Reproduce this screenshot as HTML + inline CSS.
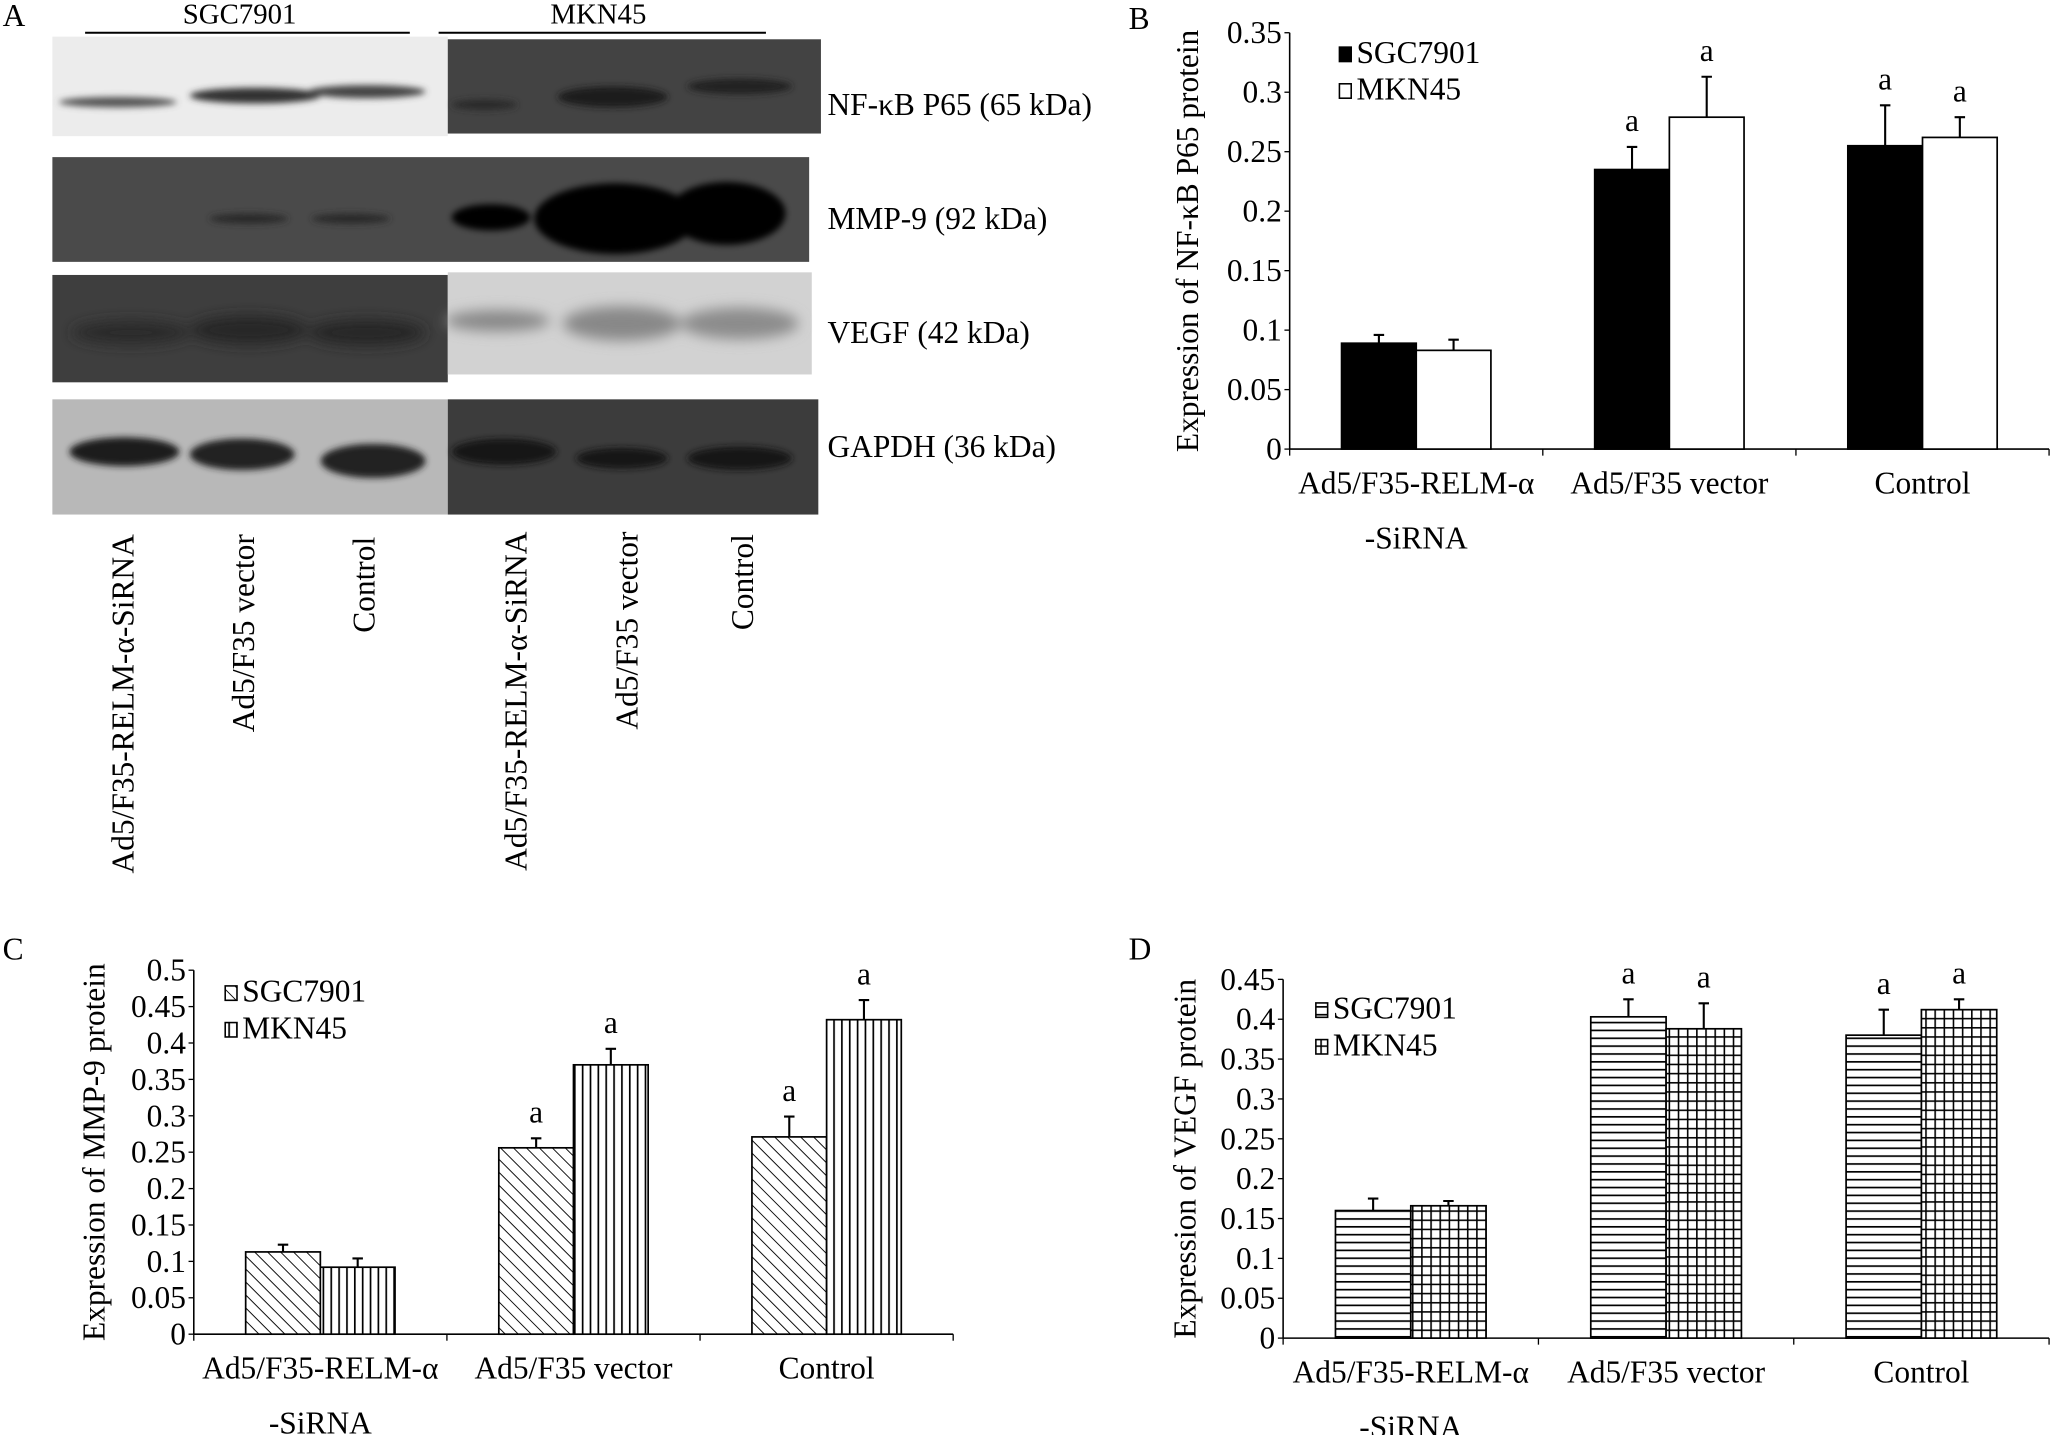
<!DOCTYPE html>
<html><head><meta charset="utf-8"><style>
html,body{margin:0;padding:0;background:#fff;}
svg{display:block;font-family:"Liberation Serif",serif;}
</style></head><body>
<svg id="fig" width="2053" height="1435" viewBox="0 0 1568 1096" xmlns="http://www.w3.org/2000/svg">
<defs>
<filter id="blur" x="-30%" y="-100%" width="160%" height="300%"><feGaussianBlur stdDeviation="5"/></filter>
<filter id="blur2" x="-30%" y="-100%" width="160%" height="300%"><feGaussianBlur stdDeviation="2.5"/></filter>
<pattern id="diag" width="7" height="7" patternUnits="userSpaceOnUse" patternTransform="rotate(-45)"><rect width="7" height="7" fill="#fff"/><line x1="0" y1="0" x2="0" y2="7" stroke="#000" stroke-width="1.4"/></pattern>
<pattern id="vert" width="6" height="6" patternUnits="userSpaceOnUse"><rect width="6" height="6" fill="#fff"/><line x1="1" y1="0" x2="1" y2="6" stroke="#000" stroke-width="1.3"/></pattern>
<pattern id="horiz" width="6" height="6" patternUnits="userSpaceOnUse"><rect width="6" height="6" fill="#fff"/><line x1="0" y1="1" x2="6" y2="1" stroke="#000" stroke-width="1.3"/></pattern>
<pattern id="grid" width="7" height="7" patternUnits="userSpaceOnUse"><rect width="7" height="7" fill="#fff"/><line x1="0" y1="1" x2="7" y2="1" stroke="#000" stroke-width="1.2"/><line x1="1" y1="0" x2="1" y2="7" stroke="#000" stroke-width="1.2"/></pattern>
</defs>

<g>
<text x="2" y="20" font-size="24">A</text>
<text x="183" y="18" font-size="22" text-anchor="middle">SGC7901</text>
<line x1="65" y1="25" x2="313" y2="25" stroke="#000" stroke-width="1.5"/>
<text x="457" y="18" font-size="22" text-anchor="middle">MKN45</text>
<line x1="335" y1="25" x2="585" y2="25" stroke="#000" stroke-width="1.5"/>

<g>
<rect x="40" y="28" width="302" height="76" fill="#ececec"/>
<rect x="342" y="30" width="285" height="72" fill="#434343"/>
<g filter="url(#blur2)">
<ellipse cx="90" cy="78" rx="45" ry="4" fill="#555"/>
<ellipse cx="195" cy="73" rx="50" ry="6" fill="#333"/>
<ellipse cx="280" cy="70" rx="45" ry="5" fill="#444"/>
<ellipse cx="370" cy="80" rx="25" ry="4" fill="#2a2a2a"/>
<ellipse cx="468" cy="74" rx="42" ry="8" fill="#1a1a1a"/>
<ellipse cx="565" cy="66" rx="40" ry="6" fill="#222"/>
</g>
</g>
<g>
<rect x="40" y="120" width="578" height="80" fill="#4a4a4a"/>
<g filter="url(#blur2)">
<ellipse cx="190" cy="167" rx="30" ry="4" fill="#2a2a2a"/>
<ellipse cx="268" cy="167" rx="30" ry="4" fill="#2a2a2a"/>
<ellipse cx="375" cy="166" rx="30" ry="10" fill="#050505"/>
<ellipse cx="470" cy="167" rx="62" ry="27" fill="#000"/>
<ellipse cx="555" cy="163" rx="45" ry="24" fill="#000"/>
</g>
</g>
<g>
<rect x="40" y="210" width="302" height="82" fill="#3e3e3e"/>
<rect x="342" y="208" width="278" height="78" fill="#d2d2d2"/>
<g filter="url(#blur)">
<ellipse cx="100" cy="254" rx="45" ry="9" fill="#2a2a2a"/>
<ellipse cx="190" cy="252" rx="45" ry="11" fill="#262626"/>
<ellipse cx="280" cy="254" rx="45" ry="10" fill="#282828"/>
<ellipse cx="380" cy="245" rx="40" ry="8" fill="#888"/>
<ellipse cx="475" cy="247" rx="45" ry="13" fill="#888"/>
<ellipse cx="565" cy="247" rx="45" ry="12" fill="#8c8c8c"/>
</g>
</g>
<g>
<rect x="40" y="305" width="302" height="88" fill="#b8b8b8"/>
<rect x="342" y="305" width="283" height="88" fill="#3c3c3c"/>
<g filter="url(#blur2)">
<ellipse cx="95" cy="345" rx="42" ry="11" fill="#1e1e1e"/>
<ellipse cx="185" cy="347" rx="40" ry="12" fill="#222"/>
<ellipse cx="285" cy="352" rx="40" ry="13" fill="#222"/>
<ellipse cx="385" cy="345" rx="40" ry="10" fill="#151515"/>
<ellipse cx="475" cy="350" rx="35" ry="8" fill="#181818"/>
<ellipse cx="565" cy="350" rx="40" ry="9" fill="#181818"/>
</g>
</g>
<g font-size="24">
<text x="632" y="88">NF-κB P65 (65 kDa)</text>
<text x="632" y="175">MMP-9 (92 kDa)</text>
<text x="632" y="262">VEGF (42 kDa)</text>
<text x="632" y="349">GAPDH (36 kDa)</text>
</g>
<g font-size="24" text-anchor="end">
<text transform="translate(102,408) rotate(-90)">Ad5/F35-RELM-α-SiRNA</text>
<text transform="translate(194,408) rotate(-90)">Ad5/F35 vector</text>
<text transform="translate(286,410) rotate(-90)">Control</text>
<text transform="translate(402,406) rotate(-90)">Ad5/F35-RELM-α-SiRNA</text>
<text transform="translate(487,406) rotate(-90)">Ad5/F35 vector</text>
<text transform="translate(575,408) rotate(-90)">Control</text>
</g>
</g>

<text x="862" y="22" font-size="24">B</text>
<text x="2" y="733" font-size="24">C</text>
<text x="862" y="733" font-size="24">D</text>
<g id="chartB"></g>
<g id="chartC"></g>
<g id="chartD"></g>
</svg>
<script>
const categories = ["Ad5/F35-RELM-α", "Ad5/F35 vector", "Control"];
const seriesNames = ["SGC7901", "MKN45"];
const bSgc = [0.089, 0.235, 0.255];
const bMkn = [0.083, 0.279, 0.262];
const bSgcErr = [0.007, 0.019, 0.034];
const bMknErr = [0.009, 0.034, 0.017];
const bSig = [[false,false],[true,true],[true,true]];
const bTicks = ["0","0.05","0.1","0.15","0.2","0.25","0.3","0.35"];
const cSgc = [0.113, 0.256, 0.271];
const cMkn = [0.092, 0.370, 0.432];
const cSgcErr = [0.010, 0.013, 0.028];
const cMknErr = [0.012, 0.022, 0.027];
const cSig = [[false,false],[true,true],[true,true]];
const cTicks = ["0","0.05","0.1","0.15","0.2","0.25","0.3","0.35","0.4","0.45","0.5"];
const dSgc = [0.160, 0.403, 0.380];
const dMkn = [0.166, 0.388, 0.412];
const dSgcErr = [0.015, 0.022, 0.032];
const dMknErr = [0.006, 0.032, 0.013];
const dSig = [[false,false],[true,true],[true,true]];
const dTicks = ["0","0.05","0.1","0.15","0.2","0.25","0.3","0.35","0.4","0.45"];

const NS = "http://www.w3.org/2000/svg";
function mk(parent, tag, attrs, text) {
  const e = document.createElementNS(NS, tag);
  for (const k in attrs) e.setAttribute(k, attrs[k]);
  if (text !== undefined) e.textContent = text;
  parent.appendChild(e);
  return e;
}
function drawChart(id, cfg) {
  const g = document.getElementById(id);
  const {x0, x1, y0, yTop, ticks, s1, s2, e1, e2, sig, fills, title, titleX, legY, legX} = cfg;
  const maxV = parseFloat(ticks[ticks.length - 1]);
  const y = v => y0 - (v / maxV) * (y0 - yTop);
  const catW = (x1 - x0) / categories.length;
  const xc = i => x0 + catW * (i + 0.5);
  const bw = catW * 0.295;
  const yAxis = mk(g, "line", {x1: x0, y1: yTop, x2: x0, y2: y0, stroke: "#000", "stroke-width": 1.2});
  
  
  const xAxis = mk(g, "line", {x1: x0, y1: y0, x2: x1, y2: y0, stroke: "#000", "stroke-width": 1.2});
  
  
  ticks.forEach(t => {
    const v = parseFloat(t), yy = y(v);
    mk(g, "line", {x1: x0 - 4, y1: yy, x2: x0, y2: yy, stroke: "#000"});
    const tl = mk(g, "text", {x: x0 - 6, y: yy + 8, "font-size": 24, "text-anchor": "end"}, t);
    
    
  });
  for (let i = 0; i <= categories.length; i++) {
    mk(g, "line", {x1: x0 + catW * i, y1: y0, x2: x0 + catW * i, y2: y0 + 5, stroke: "#000"});
  }
  categories.forEach((c, i) => {
    const cl = mk(g, "text", {x: xc(i), y: y0 + 34, "font-size": 24, "text-anchor": "middle"}, c);
    
    
    if (i === 0) {
      const c2 = mk(g, "text", {x: xc(i), y: y0 + 76, "font-size": 24, "text-anchor": "middle"}, "-SiRNA");
      
      
    }
    [[s1, e1, 0], [s2, e2, 1]].forEach(([vals, errs, k]) => {
      const bx = xc(i) - bw + k * bw;
      const top = y(vals[i]);
      const bar = mk(g, "rect", {x: bx, y: top, width: bw, height: y0 - top, fill: fills[k], stroke: "#000", "stroke-width": 1.3});
      
      
      const cx = bx + bw / 2, et = y(vals[i] + errs[i]);
      const eb = mk(g, "path", {d: `M${cx},${top}V${et}M${cx-4},${et}H${cx+4}`, stroke: "#000", "stroke-width": 1.6, fill: "none"});
      
      
      if (sig[i][k]) {
        const a = mk(g, "text", {x: cx, y: et - 12, "font-size": 24, "text-anchor": "middle"}, "a");
        
        
      }
    });
  });
  seriesNames.forEach((n, k) => {
    const ly = legY + k * 28;
    const sw = mk(g, "rect", {x: legX, y: ly - 12, width: 9, height: 11, fill: fills[k], stroke: "#000", "stroke-width": 1.2});
    
    
    const lt = mk(g, "text", {x: legX + 13, y: ly, "font-size": 24}, n);
    
    
  });
  const tt = mk(g, "text", {transform: `translate(${titleX},${(y0 + yTop) / 2}) rotate(-90)`, "font-size": 24, "text-anchor": "middle"}, title);
  
  
}
drawChart("chartB", {x0: 985, x1: 1565, y0: 343, yTop: 25, ticks: bTicks, s1: bSgc, s2: bMkn, e1: bSgcErr, e2: bMknErr, sig: bSig,
  fills: ["#000", "#fff"], title: "Expression of NF-κB P65 protein", titleX: 915, legY: 48, legX: 1023});
drawChart("chartC", {x0: 148, x1: 728, y0: 1019, yTop: 741, ticks: cTicks, s1: cSgc, s2: cMkn, e1: cSgcErr, e2: cMknErr, sig: cSig,
  fills: ["url(#diag)", "url(#vert)"], title: "Expression of MMP-9 protein", titleX: 80, legY: 765, legX: 172});
drawChart("chartD", {x0: 980, x1: 1565, y0: 1022, yTop: 748, ticks: dTicks, s1: dSgc, s2: dMkn, e1: dSgcErr, e2: dMknErr, sig: dSig,
  fills: ["url(#horiz)", "url(#grid)"], title: "Expression of VEGF protein", titleX: 913, legY: 778, legX: 1005});
</script>
</body></html>
